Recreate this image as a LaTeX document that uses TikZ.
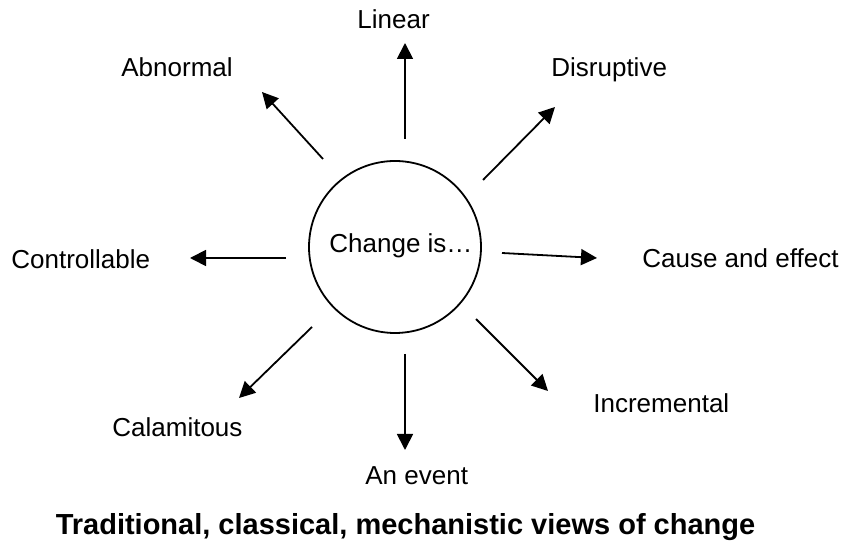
\documentclass[tikz,border=0pt]{standalone}
\usepackage{fontspec}
\setmainfont{Liberation Sans}
\usetikzlibrary{arrows.meta}

\tikzset{
  view/.style={inner sep=0pt, anchor=base west, font=\fontsize{13}{15}\selectfont},
  ray/.style={line width=0.9pt, -{Triangle[length=8pt, width=8pt]}}
}

\begin{document}
\begin{tikzpicture}[x=0.5pt, y=-0.5pt]
\useasboundingbox (0,0) rectangle (846,544);

% Centre circle
\draw[line width=0.9pt] (395,247) circle (86);
\node[view] (chg) at (329,253) {Change is\ldots};

% Labels round the circle
\node[view] (lin) at (357,29) {Linear};
\node[view] (abn) at (121,77) {Abnormal};
\node[view] (dis) at (551,77) {Disruptive};
\node[view] (con) at (11,269) {Controllable};
\node[view] (cau) at (642,268) {Cause and effect};
\node[view] (cal) at (112,437) {Calamitous};
\node[view] (inc) at (593,413) {Incremental};
\node[view] (evt) at (365,485) {An event};

% Ends of the arrows
\coordinate (linA) at (405,139); \coordinate (linB) at (405,43);
\coordinate (abnA) at (323,159); \coordinate (abnB) at (262,92);
\coordinate (disA) at (483,180); \coordinate (disB) at (555,107);
\coordinate (conA) at (286,258); \coordinate (conB) at (190,258);
\coordinate (cauA) at (502,253); \coordinate (cauB) at (597,258);
\coordinate (calA) at (312,327); \coordinate (calB) at (239,398);
\coordinate (incA) at (476,319); \coordinate (incB) at (548,391);
\coordinate (evtA) at (405,354); \coordinate (evtB) at (405,450);

% Arrows
\foreach \v in {lin,abn,dis,con,cau,cal,inc,evt}
  \draw[ray] (\v A) -- (\v B);

% Caption
\node[inner sep=0pt, anchor=base, font=\fontsize{14.5}{17}\selectfont\bfseries] (cap) at (405.5,535) {Traditional, classical, mechanistic views of change};

\end{tikzpicture}
\end{document}
